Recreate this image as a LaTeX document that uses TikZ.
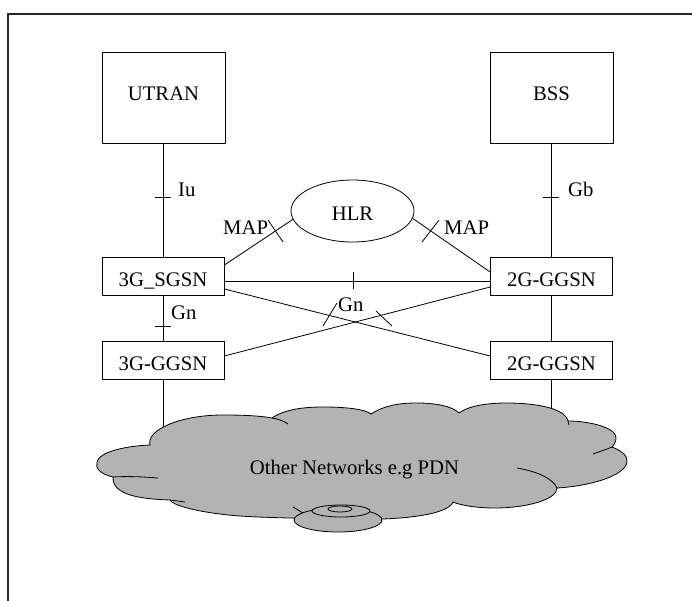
\documentclass[tikz,border=0pt]{standalone}
\usepackage{fontspec}
\setmainfont{Liberation Serif}
\usetikzlibrary{shapes.geometric}
\definecolor{cloudgray}{RGB}{179,179,179}
\tikzset{
  every node/.style={font=\fontsize{20.7}{24}\selectfont},
  bigbox/.style={draw, line width=0.8pt, inner sep=0pt, minimum width=123pt, minimum height=91pt, text height=14pt, text depth=7pt},
  smallbox/.style={draw, line width=0.8pt, inner sep=0pt, minimum width=122pt, minimum height=38pt, text height=21pt, text depth=0pt},
  hlrshape/.style={draw, ellipse, line width=0.8pt, inner sep=0pt, minimum width=123pt, minimum height=62pt, text height=20pt, text depth=0pt},
  link/.style={line width=0.8pt},
  tickmark/.style={line width=0.8pt},
  lbl/.style={anchor=base west, inner sep=0pt},
  cloudstyle/.style={fill=cloudgray, draw=black, line width=0.8pt},
}
\begin{document}
\begin{tikzpicture}[x=1pt,y=-1pt]
\useasboundingbox (0,0) rectangle (692,601);
\clip (0,0) rectangle (692,601);
% outer frame
\draw[line width=1.4pt, draw=black!85] (8,14) rectangle (720,640);

% nodes
\node[bigbox] (utran) at (163.5,97.5) {UTRAN};
\node[bigbox] (bss) at (551.5,97.5) {BSS};
\node[hlrshape] (hlr) at (352.5,211) {HLR};
\node[smallbox] (s3) at (163,276) {3G\_SGSN};
\node[smallbox] (g3) at (163,360) {3G-GGSN};
\node[smallbox] (g2a) at (551.5,276) {2G-GGSN};
\node[smallbox] (g2b) at (551.5,360) {2G-GGSN};
\coordinate (cloudL) at (163,450);
\coordinate (cloudR) at (551.5,450);

% connectors
\draw[link] (utran.south) -- (utran.south |- s3.north);
\draw[link] (bss.south) -- (bss.south |- g2a.north);
\draw[link] (s3.south) -- (g3.north);
\draw[link] (g2a.south) -- (g2b.north);
\draw[link] ([yshift=-5pt]s3.east) -- ([yshift=-5pt]g2a.west);
\draw[link] ([yshift=11pt]s3.east) -- (hlr.188);
\draw[link] (hlr.-7.5) -- ([yshift=4pt]g2a.west);
\draw[link] ([yshift=-13pt]s3.east) -- ([yshift=4pt]g2b.west);
\draw[link] ([yshift=4pt]g3.east) -- ([yshift=-11pt]g2a.west);
\draw[link] (g3.south) -- (cloudL);
\draw[link] (g2b.south) -- (cloudR);

% tick marks
\draw[tickmark] (155,197) -- (171,197);
\draw[tickmark] (543,197) -- (559,197);
\draw[tickmark] (155,326) -- (171,326);
\draw[tickmark] (353,272) -- (353,289);
\draw[tickmark] (268,220) -- (283,242);
\draw[tickmark] (422,242) -- (439,220);
\draw[tickmark] (323,326) -- (337,303);
\draw[tickmark] (376,311) -- (392,326);

% labels
\node[lbl] (lIu) at (178,197) {Iu};
\node[lbl] (lGb) at (568,197) {Gb};
\node[lbl] (lMAPl) at (223,235) {MAP};
\node[lbl] (lMAPr) at (444,235) {MAP};
\node[lbl] (lGnv) at (171,319) {Gn};
\node[lbl] (lGnc) at (338,311) {Gn};

% cloud
\path[cloudstyle] (150,445)
 .. controls (146,430) and (180,415) .. (223,415)
 .. controls (245,415) and (262,416) .. (272,418)
 .. controls (285,409) and (305,407) .. (323,407)
 .. controls (345,407) and (365,409) .. (371,414)
 .. controls (385,405) and (400,403) .. (417,403)
 .. controls (435,403) and (452,406) .. (459,413)
 .. controls (470,405) and (490,403) .. (507,403)
 .. controls (535,403) and (565,408) .. (568,421)
 .. controls (590,421) and (617,428) .. (616,438)
 .. controls (616,442) and (614,445) .. (612,447)
 .. controls (622,451) and (628,456) .. (627,462)
 .. controls (625,476) and (590,486) .. (557,488)
 .. controls (557,500) and (525,508) .. (495,508)
 .. controls (475,508) and (460,505) .. (453,502)
 .. controls (448,515) and (400,521) .. (340,519)
 .. controls (280,518) and (240,517) .. (220,514)
 .. controls (195,511) and (172,505) .. (170,500)
 .. controls (140,499) and (112,495) .. (113,477)
 .. controls (100,474) and (95,468) .. (97,462)
 .. controls (99,452) and (125,446) .. (150,445) -- cycle;
% inner strokes of the cloud
\draw[link] (272,418) .. controls (278,419) and (284,421) .. (288,424);
\draw[link] (568,421) -- (569,425);
\draw[link] (612,447) .. controls (605,450) and (598,452) .. (593,454);
\draw[link] (557,488) .. controls (553,478) and (535,471) .. (517,468);
\draw[link] (170,500) -- (185,502);
\draw[link] (113,477) .. controls (130,476) and (145,477) .. (158,478);
\draw[link] (293,507) -- (303,513);
% disk
\path[cloudstyle] (338,520) ellipse [x radius=44, y radius=12];
\path[cloudstyle] (341,511) ellipse [x radius=29, y radius=6];
\draw[link] (340,509) ellipse [x radius=12, y radius=3];
\node[anchor=base, inner sep=0pt] (net) at (354.5,474) {Other Networks e.g PDN};
\end{tikzpicture}
\end{document}
